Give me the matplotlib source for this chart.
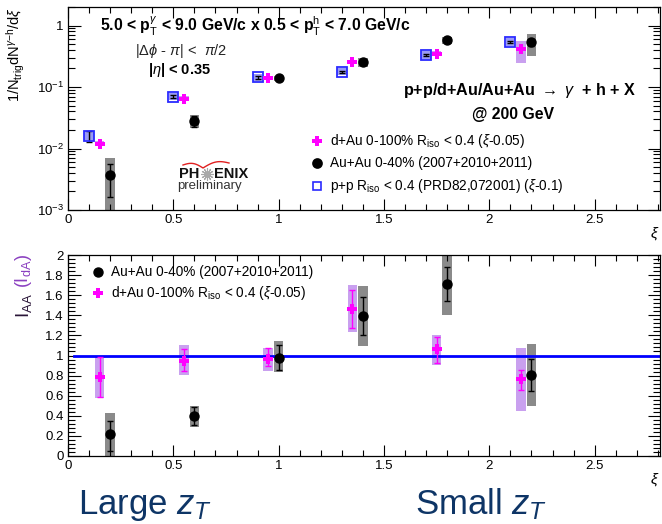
import matplotlib
matplotlib.use("Agg")
import matplotlib.pyplot as plt
import numpy as np
from matplotlib.ticker import LogLocator, MultipleLocator, NullFormatter, FixedLocator

plt.rcParams["font.family"] = ["Liberation Sans", "DejaVu Sans"]
plt.rcParams["mathtext.fontset"] = "custom"
plt.rcParams["mathtext.rm"] = "Liberation Sans"
plt.rcParams["mathtext.it"] = "Liberation Sans:italic"
plt.rcParams["mathtext.bf"] = "Liberation Sans:bold"

# --- per-trigger yields vs xi (top panel) ---
xi_pp = [0.1, 0.5, 0.9, 1.3, 1.7, 2.1]
y_pp = [0.016, 0.070, 0.143, 0.176, 0.33, 0.54]
pp_stat_lo = [0.0126, 0.066, 0.137, 0.170, 0.32, 0.52]
pp_stat_hi = [0.019, 0.074, 0.149, 0.182, 0.34, 0.56]
pp_sys_lo = [0.0135, 0.061, 0.125, 0.154, 0.29, 0.47]
pp_sys_hi = [0.0190, 0.080, 0.163, 0.200, 0.38, 0.62]

xi_dau = [0.15, 0.55, 0.95, 1.35, 1.75, 2.15]
y_dau = [0.0119, 0.065, 0.138, 0.255, 0.35, 0.41]
dau_sys_lo = [0.0108, 0.059, 0.128, 0.235, 0.32, 0.25]
dau_sys_hi = [0.0131, 0.071, 0.148, 0.275, 0.38, 0.55]

xi_auau = [0.2, 0.6, 1.0, 1.4, 1.8, 2.2]
y_auau = [0.0037, 0.0275, 0.138, 0.255, 0.575, 0.53]
auau_stat_lo = [0.0016, 0.022, 0.131, 0.24, 0.55, 0.46]
auau_stat_hi = [0.0057, 0.034, 0.145, 0.27, 0.60, 0.60]
auau_sys_lo = [0.001, 0.0215, 0.124, 0.215, 0.50, 0.32]
auau_sys_hi = [0.0070, 0.0350, 0.152, 0.295, 0.66, 0.74]

# --- I_AA / I_dA vs xi (bottom panel) ---
ida = [0.79, 0.95, 0.97, 1.46, 1.06, 0.77]
ida_stat_lo = [0.59, 0.85, 0.90, 1.27, 0.93, 0.66]
ida_stat_hi = [0.99, 1.06, 1.07, 1.65, 1.18, 0.86]
ida_sys_lo = [0.58, 0.81, 0.85, 1.23, 0.91, 0.45]
ida_sys_hi = [0.99, 1.10, 1.07, 1.70, 1.20, 1.07]

iaa = [0.22, 0.40, 0.98, 1.39, 1.71, 0.81]
iaa_stat_lo = [0.05, 0.31, 0.86, 1.20, 1.54, 0.65]
iaa_stat_hi = [0.35, 0.49, 1.10, 1.58, 1.88, 0.97]
iaa_sys_lo = [0.0, 0.29, 0.835, 1.09, 1.40, 0.50]
iaa_sys_hi = [0.43, 0.50, 1.14, 1.69, 2.0, 1.11]

MAGENTA = "#ff00ff"
BLUE = "#2a2aff"
BOX_W = 0.045

fig = plt.figure(figsize=(6.62, 5.24), dpi=100)
ax1 = fig.add_axes([68 / 662, 1 - 210 / 524, 592 / 662, 203 / 524])
ax2 = fig.add_axes([68 / 662, 1 - 456 / 524, 592 / 662, 201 / 524])


def sys_boxes(ax, x, lo, hi, color, alpha=1.0):
    lo = np.asarray(lo)
    hi = np.asarray(hi)
    ax.bar(x, hi - lo, bottom=lo, width=BOX_W, color=color, alpha=alpha,
           linewidth=0, zorder=1)


def stat_bars(ax, x, y, lo, hi, color):
    y = np.asarray(y)
    err = [y - np.asarray(lo), np.asarray(hi) - y]
    ax.errorbar(x, y, yerr=err, fmt="none", ecolor=color, elinewidth=1.0,
                capsize=2, capthick=1.0, zorder=3)


# top panel
sys_boxes(ax1, xi_pp, pp_sys_lo, pp_sys_hi, "#9a9af5")
sys_boxes(ax1, xi_dau, dau_sys_lo, dau_sys_hi, "#c9a0ef")
sys_boxes(ax1, xi_auau, auau_sys_lo, auau_sys_hi, "#8a8a8a")
stat_bars(ax1, xi_pp, y_pp, pp_stat_lo, pp_stat_hi, "black")
stat_bars(ax1, xi_auau, y_auau, auau_stat_lo, auau_stat_hi, "black")
ax1.plot(xi_pp, y_pp, "s", ms=7, mfc="none", mec=BLUE, mew=1.3, zorder=4)
ax1.plot(xi_dau, y_dau, "P", ms=7.5, color=MAGENTA, mew=0, zorder=4)
ax1.plot(xi_auau, y_auau, "o", ms=6.5, color="black", zorder=4)

ax1.set_yscale("log")
ax1.set_xlim(0, 2.81)
ax1.set_ylim(1e-3, 2.0)
ax1.yaxis.set_major_locator(FixedLocator([1e-3, 1e-2, 1e-1, 1]))
ax1.yaxis.set_minor_locator(LogLocator(base=10, subs=np.arange(2, 10), numticks=20))
ax1.yaxis.set_minor_formatter(NullFormatter())
ax1.set_yticklabels([r"10$^{-3}$", r"10$^{-2}$", r"10$^{-1}$", "1"])

# bottom panel
ax2.axhline(1.0, xmin=0.01, xmax=1, color="#0000ff", lw=2, zorder=2)
sys_boxes(ax2, xi_dau, ida_sys_lo, ida_sys_hi, "#c9a0ef")
sys_boxes(ax2, xi_auau, iaa_sys_lo, iaa_sys_hi, "#8a8a8a")
stat_bars(ax2, xi_dau, ida, ida_stat_lo, ida_stat_hi, MAGENTA)
stat_bars(ax2, xi_auau, iaa, iaa_stat_lo, iaa_stat_hi, "black")
ax2.plot(xi_dau, ida, "P", ms=7.5, color=MAGENTA, mew=0, zorder=4)
ax2.plot(xi_auau, iaa, "o", ms=6.5, color="black", zorder=4)

ax2.set_xlim(0, 2.81)
ax2.set_ylim(0, 2.0)
ax2.yaxis.set_minor_locator(MultipleLocator(0.04))
ax2.set_yticks(np.arange(0, 2.01, 0.2))
ax2.set_yticklabels(["0", "0.2", "0.4", "0.6", "0.8", "1", "1.2", "1.4",
                     "1.6", "1.8", "2"])

for ax in (ax1, ax2):
    ax.xaxis.set_minor_locator(MultipleLocator(0.1))
    ax.set_xticks([0, 0.5, 1, 1.5, 2, 2.5])
    ax.set_xticklabels(["0", "0.5", "1", "1.5", "2", "2.5"])
    ax.tick_params(which="both", direction="in", top=True, right=True,
                   labelsize=9.5, width=0.8, pad=3)
    ax.tick_params(axis="y", which="major", length=9)
    ax.tick_params(axis="y", which="minor", length=5)
    ax.tick_params(axis="x", which="major", length=8)
    ax.tick_params(axis="x", which="minor", length=4)
    for s in ax.spines.values():
        s.set_linewidth(0.9)
    ax.text(0.999, -0.075, r"$\xi$", transform=ax.transAxes, ha="right",
            va="top", fontsize=11)

# axis titles
fig.text(16 / 662, 1 - 7 / 524,
         r"1/N$_{\rm trig}$dN$^{\gamma\mathrm{-h}}$/d$\xi$",
         rotation=90, ha="center", va="top", fontsize=10.5)
fig.text(24 / 662, 1 - 254 / 524, r"(I$_{\rm dA}$)", rotation=90,
         ha="center", va="top", fontsize=13, color="#8a3fc0")
fig.text(24 / 662, 1 - 318 / 524, r"I$_{\rm AA}$", rotation=90,
         ha="center", va="bottom", fontsize=13.5, color="#2a1538")

# kinematic labels
ax1.text(0.054, 0.905, r"5.0 < p$_{\rm T}^{\gamma}$ < 9.0 GeV/c x 0.5 < p$_{\rm T}^{\rm h}$ < 7.0 GeV/c",
         transform=ax1.transAxes, fontsize=11.3, fontweight="bold",
         ha="left", va="center")
ax1.text(0.113, 0.785, r"|$\Delta\phi$ - $\pi$| <  $\pi$/2", transform=ax1.transAxes,
         fontsize=10.5, ha="left", va="center", color="#222222")
ax1.text(0.135, 0.69, r"|$\eta$| < 0.35", transform=ax1.transAxes,
         fontsize=10.5, fontweight="bold", ha="left", va="center")
ax1.text(0.96, 0.59, r"p+p/d+Au/Au+Au $\rightarrow$ $\gamma$  + h + X",
         transform=ax1.transAxes, fontsize=11.6, fontweight="bold",
         ha="right", va="center")
ax1.text(0.752, 0.47, "@ 200 GeV", transform=ax1.transAxes, fontsize=11.4,
         fontweight="bold", ha="center", va="center")

# top legend
leg_top = [
    ("P", MAGENTA, MAGENTA, r"d+Au 0-100% R$_{\rm iso}$ < 0.4 ($\xi$-0.05)"),
    ("o", "black", "black", "Au+Au 0-40% (2007+2010+2011)"),
    ("s", "none", BLUE, r"p+p R$_{\rm iso}$ < 0.4 (PRD82,072001) ($\xi$-0.1)"),
]
for i, (m, fc, ec, label) in enumerate(leg_top):
    yy = 0.342 - i * 0.112
    ax1.plot([0.42], [yy], m, ms=6.5 if m != "s" else 6, mfc=fc, mec=ec,
             mew=0 if m == "P" else 1.2, transform=ax1.transAxes, clip_on=False)
    ax1.text(0.443, yy, label, transform=ax1.transAxes, fontsize=9.8,
             ha="left", va="center")

# PHENIX preliminary mark
ax1.text(0.222, 0.175, "PH", transform=ax1.transAxes, fontsize=10.5,
         fontweight="bold", ha="right", va="center", color="#111111")
ax1.plot([0.234], [0.177], marker=(12, 2, 0), ms=9, mec="#a8a8a8", mew=0.8,
         transform=ax1.transAxes, zorder=5)
ax1.text(0.246, 0.175, "ENIX", transform=ax1.transAxes, fontsize=10.5,
         fontweight="bold", ha="left", va="center", color="#111111")
ax1.text(0.239, 0.118, "preliminary", transform=ax1.transAxes, fontsize=9.5,
         ha="center", va="center", color="#333333")
# red gull-wing arc above the logo
t = np.linspace(0, 1, 30)
lx = (183 + 20 * t - 68) / 592
ly = (210 - (165 + 3 * t - 3 * np.sin(np.pi * t))) / 203
rx = (203 + 26 * t - 68) / 592
ry = (210 - (168 - 5 * t - 3.5 * np.sin(np.pi * t))) / 203
ax1.plot(np.r_[lx, rx], np.r_[ly, ry], color="#e02020", lw=1,
         transform=ax1.transAxes)

# bottom legend
ax2.plot([0.05], [0.915], "o", ms=6.5, color="black", transform=ax2.transAxes)
ax2.text(0.073, 0.915, "Au+Au 0-40% (2007+2010+2011)", transform=ax2.transAxes,
         fontsize=9.8, ha="left", va="center")
ax2.plot([0.05], [0.81], "P", ms=6.5, color=MAGENTA, mew=0, transform=ax2.transAxes)
ax2.text(0.073, 0.81, r"d+Au 0-100% R$_{\rm iso}$ < 0.4 ($\xi$-0.05)",
         transform=ax2.transAxes, fontsize=9.8, ha="left", va="center")

# z_T captions
for xpos, word in ((78, "Large"), (415, "Small")):
    fig.text(xpos / 662, 1 - 514 / 524, word + r" $z_T$", fontsize=25,
             color="#0e3566", ha="left", va="baseline")

fig.savefig("out.png", dpi=100)
